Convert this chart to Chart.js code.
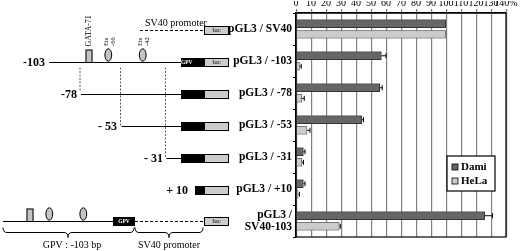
<!DOCTYPE html>
<html>
<head>
<meta charset="utf-8">
<script src="https://cdn.jsdelivr.net/npm/chart.js@4/dist/chart.umd.min.js"></script>
<style>
html, body { margin: 0; padding: 0; background: #fff; }
#wrap { width: 520px; height: 251px; position: relative; }
</style>
</head>
<body>
<div id="wrap"><canvas id="chart"></canvas></div>
<script>
// constructs (y categories) and relative luciferase activity (% of pGL3/SV40)
const constructs = ["pGL3 / SV40", "pGL3 / -103", "pGL3 / -78", "pGL3 / -53", "pGL3 / -31", "pGL3 / +10", ["pGL3 /", "SV40-103"]];
const damiValues = [100, 57, 56, 44, 5, 5, 126];
const damiErrors = [0, 3, 1.5, 1, 1, 1, 5];
const helaValues = [100, 2.5, 4, 7.5, 4, 1.5, 29];
const helaErrors = [0, 1, 1.5, 1.8, 1, 0.8, 0.5];
const xTickLabels = ["0", "10", "20", "30", "40", "50", "60", "70", "80", "90", "100", "110", "120", "130", "140%"];
const seriesNames = ["Dami", "HeLa"];

const SERIF = "'Liberation Serif', 'DejaVu Serif', serif";
const DAMI_COLOR = "#666666";
const HELA_COLOR = "#cccccc";

// curly brace opening upward, tip pointing down at xm
function brace(ctx, x1, x2, xm, top, bottom) {
    const mid = (top + bottom) / 2;
    const r = 4;
    ctx.beginPath();
    ctx.moveTo(x1, top);
    ctx.quadraticCurveTo(x1, mid, x1 + r, mid);
    ctx.lineTo(xm - r, mid);
    ctx.quadraticCurveTo(xm, mid, xm, bottom);
    ctx.quadraticCurveTo(xm, mid, xm + r, mid);
    ctx.lineTo(x2 - r, mid);
    ctx.quadraticCurveTo(x2, mid, x2, top);
    ctx.stroke();
}

function box(ctx, x, y, w, h, fill) {
    ctx.fillStyle = fill;
    ctx.fillRect(x, y - h / 2, w, h);
    ctx.strokeStyle = "#000";
    ctx.lineWidth = 1;
    ctx.strokeRect(x + 0.5, y - h / 2 + 0.5, w - 1, h - 1);
}

function oval(ctx, cx, cy) {
    ctx.beginPath();
    ctx.ellipse(cx, cy, 3.4, 6.2, 0, 0, Math.PI * 2);
    ctx.fillStyle = "#c4c4c4";
    ctx.fill();
    ctx.strokeStyle = "#000";
    ctx.lineWidth = 1;
    ctx.stroke();
}

function vtext(ctx, lines, x, yEnd, size) {
    ctx.save();
    ctx.translate(x, yEnd);
    ctx.rotate(-Math.PI / 2);
    ctx.font = size + "px " + SERIF;
    ctx.fillStyle = "#000";
    ctx.textAlign = "left";
    ctx.textBaseline = "middle";
    lines.forEach((t, i) => ctx.fillText(t, 0, i * (size + 0.5)));
    ctx.restore();
}

function hline(ctx, x1, x2, y, dash) {
    ctx.beginPath();
    ctx.setLineDash(dash || []);
    ctx.moveTo(x1, y);
    ctx.lineTo(x2, y);
    ctx.strokeStyle = "#000";
    ctx.lineWidth = 1;
    ctx.stroke();
    ctx.setLineDash([]);
}

function label(ctx, t, x, y, align, size, bold) {
    ctx.font = (bold ? "bold " : "") + size + "px " + SERIF;
    ctx.fillStyle = "#000";
    ctx.textAlign = align;
    ctx.textBaseline = "middle";
    ctx.fillText(t, x, y);
}

const schematic = {
    id: "schematic",
    afterDraw(chart) {
        const ctx = chart.ctx;
        const yS = chart.scales.y;
        const ry = i => Math.round(yS.getPixelForValue(i)) + 1.5;
        const GPV_X = 181, LUC_X = 204, LUC_W = 25, BH = 9;
        ctx.save();

        // SV40 control
        let y = ry(0);
        label(ctx, "SV40 promoter", 145, y - 7, "left", 10, false);
        hline(ctx, 140, 203, y, [3, 2]);
        box(ctx, LUC_X, y, LUC_W, BH, HELA_COLOR);
        label(ctx, "luc", LUC_X + LUC_W / 2, y, "center", 7, false);

        // -103 full promoter
        y = ry(1);
        const y103 = y;
        label(ctx, "-103", 45, y, "right", 12, true);
        hline(ctx, 49, GPV_X, y);
        ctx.fillStyle = "#c4c4c4";
        ctx.fillRect(85.5, y - 13, 7, 13);
        ctx.strokeStyle = "#000";
        ctx.strokeRect(86, y - 12.5, 6, 12.5);
        oval(ctx, 108.3, y - 7.5);
        oval(ctx, 142.7, y - 7.5);
        vtext(ctx, ["GATA-71"], 89, 46.5, 8);
        vtext(ctx, ["Ets", "-66"], 106, 46, 6.5);
        vtext(ctx, ["Ets", "-42"], 140.5, 46, 6.5);
        box(ctx, GPV_X, y, LUC_X - GPV_X, BH, "#000");
        box(ctx, LUC_X, y, LUC_W, BH, HELA_COLOR);
        ctx.font = "bold 5.5px " + SERIF;
        ctx.fillStyle = "#fff";
        ctx.fillText("GPV", (GPV_X + LUC_X) / 2, y);
        label(ctx, "luc", LUC_X + LUC_W / 2, y, "center", 7, false);

        // deletions
        const dels = [["-78", 81, 77], ["- 53", 121.5, 117], ["- 31", 166.5, 163]];
        dels.forEach((d, k) => {
            const yy = ry(k + 2);
            label(ctx, d[0], d[2], yy, "right", 12, true);
            hline(ctx, d[1], GPV_X, yy);
            box(ctx, GPV_X, yy, LUC_X - GPV_X, BH, "#000");
            box(ctx, LUC_X, yy, LUC_W, BH, HELA_COLOR);
            ctx.beginPath();
            ctx.setLineDash([2, 1.5]);
            ctx.strokeStyle = "#333";
            ctx.lineWidth = 0.8;
            ctx.moveTo(d[1] - 1, y103 + 5);
            ctx.lineTo(d[1] - 1, yy - (k === 0 ? 4 : 0));
            ctx.stroke();
            ctx.setLineDash([]);
        });

        // +10
        y = ry(5);
        label(ctx, "+ 10", 188, y, "right", 12, true);
        box(ctx, 195, y, LUC_X - 195, BH, "#000");
        box(ctx, LUC_X, y, LUC_W, BH, HELA_COLOR);

        // SV40-103 hybrid
        y = ry(6) - 1;
        hline(ctx, 3, 113, y);
        ctx.fillStyle = "#c4c4c4";
        ctx.fillRect(26.5, y - 13, 7, 13);
        ctx.strokeRect(27, y - 12.5, 6, 12.5);
        oval(ctx, 49.3, y - 7.5);
        oval(ctx, 83.3, y - 7.5);
        box(ctx, 113, y, 22, BH, "#000");
        ctx.font = "bold 5.5px " + SERIF;
        ctx.fillStyle = "#fff";
        ctx.textAlign = "center";
        ctx.fillText("GPV", 124, y);
        hline(ctx, 135, 203, y, [3, 2]);
        box(ctx, LUC_X, y, LUC_W, BH, HELA_COLOR);
        label(ctx, "luc", LUC_X + LUC_W / 2, y, "center", 7, false);
        ctx.strokeStyle = "#000";
        ctx.lineWidth = 1;
        brace(ctx, 3, 134, 68, y + 6, y + 16);
        brace(ctx, 135, 203, 169, y + 6, y + 16);
        label(ctx, "GPV : -103 bp", 72, 245, "center", 10, false);
        label(ctx, "SV40 promoter", 169, 245, "center", 10, false);
        ctx.restore();
    }
};

const frameAndErrors = {
    id: "frameAndErrors",
    afterDatasetsDraw(chart) {
        const ctx = chart.ctx;
        const a = chart.chartArea;
        const xS = chart.scales.x;
        const errs = [damiErrors, helaErrors];
        ctx.save();

        // vertical reference lines every 10 %, then the bars again on top of them
        ctx.fillStyle = "#808080";
        xTickLabels.forEach((t, i) => {
            const px = Math.round(xS.getPixelForValue(i * 10));
            ctx.fillRect(px, a.top, 1.2, a.bottom - a.top);
            ctx.fillRect(px, a.top - 4, 1.2, 4);
        });
        chart.data.datasets.forEach((ds, di) => {
            chart.getDatasetMeta(di).data.forEach(bar => bar.draw(ctx, a));
        });

        ctx.strokeStyle = "#000";
        ctx.lineWidth = 1;
        chart.data.datasets.forEach((ds, di) => {
            chart.getDatasetMeta(di).data.forEach((bar, i) => {
                const e = errs[di][i];
                if (!e) return;
                const x0 = bar.x;
                const x1 = xS.getPixelForValue(ds.data[i] + e);
                ctx.beginPath();
                ctx.moveTo(x0, bar.y);
                ctx.lineTo(x1, bar.y);
                ctx.moveTo(x1, bar.y - 2.5);
                ctx.lineTo(x1, bar.y + 2.5);
                ctx.stroke();
            });
        });
        ctx.lineWidth = 1.2;
        ctx.strokeRect(a.left, a.top, a.right - a.left, a.bottom - a.top);

        // legend box
        const lx = 447, ly = 156, lw = 48, lh = 35;
        ctx.fillStyle = "#fff";
        ctx.fillRect(lx, ly, lw, lh);
        ctx.strokeRect(lx, ly, lw, lh);
        [DAMI_COLOR, HELA_COLOR].forEach((c, k) => {
            const yy = ly + 11 + k * 14;
            ctx.fillStyle = c;
            ctx.fillRect(452, yy - 3, 6, 6);
            ctx.lineWidth = 0.8;
            ctx.strokeRect(452, yy - 3, 6, 6);
            label(ctx, seriesNames[k], 461, yy, "left", 11, true);
        });
        ctx.restore();
    }
};

new Chart(document.getElementById("chart"), {
    type: "bar",
    data: {
        labels: constructs,
        datasets: [
            { label: seriesNames[0], data: damiValues, backgroundColor: DAMI_COLOR, borderColor: "#333", borderWidth: 1 },
            { label: seriesNames[1], data: helaValues, backgroundColor: HELA_COLOR, borderColor: "#777", borderWidth: 1 }
        ]
    },
    options: {
        indexAxis: "y",
        responsive: true,
        maintainAspectRatio: false,
        animation: false,
        categoryPercentage: 0.66,
        barPercentage: 0.8,
        layout: { padding: { left: 0, right: 14, top: 0, bottom: 14 } },
        plugins: { legend: { display: false }, tooltip: { enabled: false } },
        scales: {
            x: {
                position: "top",
                min: 0,
                max: 140,
                ticks: {
                    stepSize: 10,
                    padding: 0,
                    autoSkip: false,
                    maxRotation: 0,
                    minRotation: 0,
                    color: "#000",
                    font: { family: SERIF, size: 10 },
                    callback: (v, i) => xTickLabels[i]
                },
                grid: {
                    drawOnChartArea: false,
                    tickColor: "#000",
                    tickLength: 4
                },
                border: { color: "#000", width: 1.2 },
                afterFit: s => { s.height = 12; }
            },
            y: {
                ticks: {
                    color: "#000",
                    padding: 1,
                    font: { family: SERIF, size: 11.5, weight: "bold", lineHeight: 1.05 }
                },
                grid: { drawOnChartArea: false, tickColor: "#000", tickLength: 3 },
                border: { color: "#000", width: 1.2 },
                afterFit: s => { s.width = 296; }
            }
        }
    },
    plugins: [schematic, frameAndErrors]
});
</script>
</body>
</html>
